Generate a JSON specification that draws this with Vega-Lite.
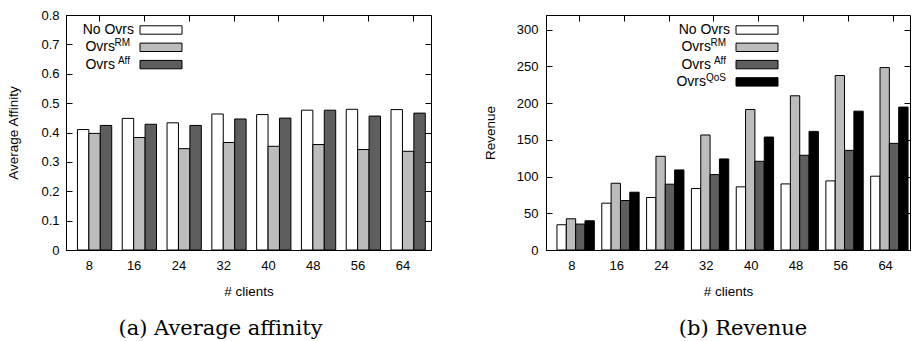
{
  "$schema": "https://vega.github.io/schema/vega-lite/v6.json",
  "padding": {"left": 6, "top": 8, "right": 4, "bottom": 2},
  "background": "white",
  "datasets": {
    "aff": [
      {"clients": 8, "series": "No Ovrs", "value": 0.410},
      {"clients": 8, "series": "Ovrs RM", "value": 0.397},
      {"clients": 8, "series": "Ovrs Aff", "value": 0.424},
      {"clients": 16, "series": "No Ovrs", "value": 0.448},
      {"clients": 16, "series": "Ovrs RM", "value": 0.383},
      {"clients": 16, "series": "Ovrs Aff", "value": 0.428},
      {"clients": 24, "series": "No Ovrs", "value": 0.433},
      {"clients": 24, "series": "Ovrs RM", "value": 0.345},
      {"clients": 24, "series": "Ovrs Aff", "value": 0.424},
      {"clients": 32, "series": "No Ovrs", "value": 0.463},
      {"clients": 32, "series": "Ovrs RM", "value": 0.366},
      {"clients": 32, "series": "Ovrs Aff", "value": 0.446},
      {"clients": 40, "series": "No Ovrs", "value": 0.461},
      {"clients": 40, "series": "Ovrs RM", "value": 0.353},
      {"clients": 40, "series": "Ovrs Aff", "value": 0.449},
      {"clients": 48, "series": "No Ovrs", "value": 0.476},
      {"clients": 48, "series": "Ovrs RM", "value": 0.359},
      {"clients": 48, "series": "Ovrs Aff", "value": 0.476},
      {"clients": 56, "series": "No Ovrs", "value": 0.479},
      {"clients": 56, "series": "Ovrs RM", "value": 0.342},
      {"clients": 56, "series": "Ovrs Aff", "value": 0.456},
      {"clients": 64, "series": "No Ovrs", "value": 0.478},
      {"clients": 64, "series": "Ovrs RM", "value": 0.336},
      {"clients": 64, "series": "Ovrs Aff", "value": 0.466}
    ],
    "rev": [
      {"clients": 8, "series": "No Ovrs", "value": 34.4},
      {"clients": 8, "series": "Ovrs RM", "value": 42.5},
      {"clients": 8, "series": "Ovrs Aff", "value": 35.3},
      {"clients": 8, "series": "Ovrs QoS", "value": 39.8},
      {"clients": 16, "series": "No Ovrs", "value": 63.8},
      {"clients": 16, "series": "Ovrs RM", "value": 90.9},
      {"clients": 16, "series": "Ovrs Aff", "value": 67.4},
      {"clients": 16, "series": "Ovrs QoS", "value": 78.7},
      {"clients": 24, "series": "No Ovrs", "value": 71.5},
      {"clients": 24, "series": "Ovrs RM", "value": 127.6},
      {"clients": 24, "series": "Ovrs Aff", "value": 89.6},
      {"clients": 24, "series": "Ovrs QoS", "value": 109.0},
      {"clients": 32, "series": "No Ovrs", "value": 83.7},
      {"clients": 32, "series": "Ovrs RM", "value": 156.6},
      {"clients": 32, "series": "Ovrs Aff", "value": 102.7},
      {"clients": 32, "series": "Ovrs QoS", "value": 124.0},
      {"clients": 40, "series": "No Ovrs", "value": 86.0},
      {"clients": 40, "series": "Ovrs RM", "value": 191.4},
      {"clients": 40, "series": "Ovrs Aff", "value": 120.8},
      {"clients": 40, "series": "Ovrs QoS", "value": 153.8},
      {"clients": 48, "series": "No Ovrs", "value": 90.0},
      {"clients": 48, "series": "Ovrs RM", "value": 210.0},
      {"clients": 48, "series": "Ovrs Aff", "value": 129.0},
      {"clients": 48, "series": "Ovrs QoS", "value": 161.5},
      {"clients": 56, "series": "No Ovrs", "value": 94.1},
      {"clients": 56, "series": "Ovrs RM", "value": 237.6},
      {"clients": 56, "series": "Ovrs Aff", "value": 135.7},
      {"clients": 56, "series": "Ovrs QoS", "value": 189.1},
      {"clients": 64, "series": "No Ovrs", "value": 100.5},
      {"clients": 64, "series": "Ovrs RM", "value": 248.4},
      {"clients": 64, "series": "Ovrs Aff", "value": 145.2},
      {"clients": 64, "series": "Ovrs QoS", "value": 194.6}
    ]
  },
  "spacing": 50,
  "resolve": {
    "scale": {"fill": "independent", "stroke": "independent", "xOffset": "independent"},
    "legend": {"fill": "independent", "stroke": "independent"}
  },
  "hconcat": [
    {
      "width": 365,
      "height": 235,
      "data": {"name": "aff"},
      "title": {"text": "(a) Average affinity", "orient": "bottom", "anchor": "middle", "font": "DejaVu Serif", "fontSize": 21, "fontWeight": "normal", "color": "black", "offset": 20, "dx": -28},
      "layer": [
        {
          "mark": {"type": "bar", "stroke": "black", "strokeWidth": 1},
          "encoding": {
            "x": {"field": "clients", "type": "ordinal", "sort": "ascending",
              "scale": {"paddingInner": 0, "paddingOuter": 0.074, "align": 0.14},
              "axis": {"orient": "bottom", "ticks": false, "labelAngle": 0, "labelPadding": 9, "title": "# clients", "titlePadding": 12, "bandPosition": 0.734}},
            "xOffset": {"field": "series", "type": "nominal",
              "scale": {"domain": ["No Ovrs", "Ovrs RM", "Ovrs Aff"], "paddingInner": 0, "paddingOuter": 0.46, "align": 1}},
            "y": {"field": "value", "type": "quantitative", "stack": null,
              "scale": {"domain": [0, 0.8], "nice": false},
              "axis": {"orient": "left", "values": [0, 0.1, 0.2, 0.3, 0.4, 0.5, 0.6, 0.7, 0.8], "format": ".1~f", "tickSize": -6, "labelPadding": 13, "title": "Average Affinity", "titlePadding": 20}},
            "fill": {"field": "series", "type": "nominal",
              "scale": {"domain": ["No Ovrs", "Ovrs RM", "Ovrs Aff"], "range": ["#ffffff", "#bcbcbc", "#5e5e5e"]},
              "legend": {"orient": "none", "legendX": 88, "legendY": 8, "title": null,
                "symbolType": "M-5,-1H5V1H-5Z", "symbolSize": 70.56, "symbolStrokeColor": "black", "symbolStrokeWidth": 1,
                "labelAlign": "right", "labelOffset": -53, "labelFontSize": 14, "rowPadding": 3.3,
                "labelExpr": "datum.label == 'No Ovrs' ? 'No Ovrs' : 'Ovrs'",
                "encode": {"labels": {"update": {"dx": {"signal": "datum.label == 'No Ovrs' ? 19 : 0"}}}}}},
            "stroke": {"field": "series", "type": "nominal", "sort": ["No Ovrs", "Ovrs RM", "Ovrs Aff"],
              "scale": {"range": ["black", "black", "black"]},
              "legend": {"orient": "none", "legendX": 88, "legendY": 4.5, "title": null,
                "symbolOpacity": 0, "symbolSize": 100, "symbolStrokeWidth": 1,
                "labelAlign": "right", "labelOffset": -35, "labelFontSize": 10, "rowPadding": 6.8,
                "labelExpr": "datum.label == 'Ovrs RM' ? 'RM' : datum.label == 'Ovrs Aff' ? 'Aff' : ''"}}
          }
        },
        {
          "mark": {"type": "point", "opacity": 0, "size": 1},
          "encoding": {
            "x": {"field": "clients", "type": "ordinal", "sort": "ascending",
              "axis": {"orient": "top", "labels": false, "title": null, "domain": false, "tickSize": -6, "bandPosition": 0.734}},
            "y": {"field": "value", "type": "quantitative",
              "axis": {"orient": "right", "labels": false, "title": null, "domain": false, "tickSize": -6, "values": [0.1, 0.2, 0.3, 0.4, 0.5, 0.6, 0.7]}}
          }
        }
      ],
      "resolve": {"axis": {"x": "independent", "y": "independent"}}
    },
    {
      "width": 364,
      "height": 235,
      "data": {"name": "rev"},
      "title": {"text": "(b) Revenue", "orient": "bottom", "anchor": "middle", "font": "DejaVu Serif", "fontSize": 21, "fontWeight": "normal", "color": "black", "offset": 20, "dx": 15},
      "layer": [
        {
          "mark": {"type": "bar", "stroke": "black", "strokeWidth": 1},
          "encoding": {
            "x": {"field": "clients", "type": "ordinal", "sort": "ascending",
              "scale": {"paddingInner": 0, "paddingOuter": 0.061, "align": 0.64},
              "axis": {"orient": "bottom", "ticks": false, "labelAngle": 0, "labelPadding": 9, "title": "# clients", "titlePadding": 12, "bandPosition": 0.667}},
            "xOffset": {"field": "series", "type": "nominal",
              "scale": {"domain": ["No Ovrs", "Ovrs RM", "Ovrs Aff", "Ovrs QoS"], "paddingInner": 0, "paddingOuter": 0.4, "align": 1}},
            "y": {"field": "value", "type": "quantitative", "stack": null,
              "scale": {"domain": [0, 320], "nice": false},
              "axis": {"orient": "left", "values": [0, 50, 100, 150, 200, 250, 300], "format": "d", "tickSize": -6, "labelPadding": 14, "title": "Revenue", "titlePadding": 19}},
            "fill": {"field": "series", "type": "nominal",
              "scale": {"domain": ["No Ovrs", "Ovrs RM", "Ovrs Aff", "Ovrs QoS"], "range": ["#ffffff", "#bcbcbc", "#5e5e5e", "#000000"]},
              "legend": {"orient": "none", "legendX": 204, "legendY": 8, "title": null,
                "symbolType": "M-5,-1H5V1H-5Z", "symbolSize": 70.56, "symbolStrokeColor": "black", "symbolStrokeWidth": 1,
                "labelAlign": "right", "labelOffset": -53, "labelFontSize": 14, "rowPadding": 3.3,
                "labelExpr": "datum.label == 'No Ovrs' ? 'No Ovrs' : 'Ovrs'",
                "encode": {"labels": {"update": {"dx": {"signal": "datum.label == 'No Ovrs' ? 19 : datum.label == 'Ovrs QoS' ? -5 : 0"}}}}}},
            "stroke": {"field": "series", "type": "nominal", "sort": ["No Ovrs", "Ovrs RM", "Ovrs Aff", "Ovrs QoS"],
              "scale": {"range": ["black", "black", "black", "black"]},
              "legend": {"orient": "none", "legendX": 204, "legendY": 4.5, "title": null,
                "symbolOpacity": 0, "symbolSize": 100, "symbolStrokeWidth": 1,
                "labelAlign": "right", "labelOffset": -35, "labelFontSize": 10, "rowPadding": 6.8,
                "labelExpr": "datum.label == 'Ovrs RM' ? 'RM' : datum.label == 'Ovrs Aff' ? 'Aff' : datum.label == 'Ovrs QoS' ? 'QoS' : ''"}}
          }
        },
        {
          "mark": {"type": "point", "opacity": 0, "size": 1},
          "encoding": {
            "x": {"field": "clients", "type": "ordinal", "sort": "ascending",
              "axis": {"orient": "top", "labels": false, "title": null, "domain": false, "tickSize": -6, "bandPosition": 0.667}},
            "y": {"field": "value", "type": "quantitative",
              "axis": {"orient": "right", "labels": false, "title": null, "domain": false, "tickSize": -6, "values": [50, 100, 150, 200, 250, 300]}}
          }
        }
      ],
      "resolve": {"axis": {"x": "independent", "y": "independent"}}
    }
  ],
  "config": {
    "font": "Liberation Sans",
    "view": {"stroke": "black", "strokeWidth": 1},
    "axis": {"domainColor": "black", "tickColor": "black", "labelColor": "black", "titleColor": "black",
      "labelFont": "Liberation Sans", "titleFont": "Liberation Sans", "titleFontWeight": "normal",
      "labelFontSize": 13, "titleFontSize": 13.5, "grid": false},
    "legend": {"labelFont": "Liberation Sans", "labelColor": "black"}
  }
}
